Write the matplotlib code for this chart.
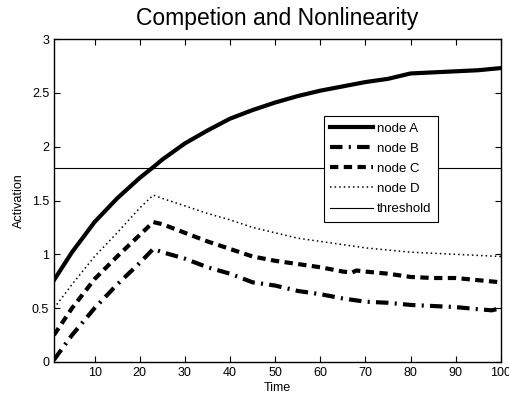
import numpy as np
import matplotlib
matplotlib.use("Agg")
import matplotlib.pyplot as plt
from matplotlib.ticker import FuncFormatter

# values
t_a = [1, 5, 10, 15, 20, 23, 25, 30, 35, 40, 45, 50, 55, 60, 65, 70, 75, 80, 85, 90, 95, 100]
node_a = [0.76, 1.02, 1.30, 1.52, 1.71, 1.81, 1.88, 2.03, 2.15, 2.26, 2.34, 2.41, 2.47, 2.52,
          2.56, 2.60, 2.63, 2.68, 2.69, 2.70, 2.71, 2.73]

t_b = [1, 5, 10, 15, 20, 23, 25, 30, 35, 40, 45, 50, 55, 60, 65, 70, 75, 80, 85, 90, 95, 98, 100]
node_b = [0.02, 0.25, 0.50, 0.72, 0.92, 1.05, 1.02, 0.96, 0.88, 0.82, 0.74, 0.71, 0.66, 0.63,
          0.59, 0.56, 0.55, 0.53, 0.52, 0.51, 0.49, 0.48, 0.50]

t_c = [1, 5, 10, 15, 20, 23, 25, 30, 35, 40, 45, 50, 55, 60, 65, 67, 68, 70, 75, 80, 85, 90, 95, 100]
node_c = [0.25, 0.50, 0.77, 0.98, 1.18, 1.30, 1.28, 1.20, 1.12, 1.05, 0.98, 0.94, 0.91, 0.88,
          0.84, 0.83, 0.85, 0.84, 0.82, 0.79, 0.78, 0.78, 0.76, 0.74]

t_d = [1, 5, 10, 15, 20, 23, 25, 30, 35, 40, 45, 50, 55, 60, 65, 70, 75, 80, 85, 90, 95, 100]
node_d = [0.50, 0.72, 0.98, 1.20, 1.43, 1.55, 1.52, 1.45, 1.38, 1.32, 1.25, 1.20, 1.15, 1.12,
          1.09, 1.06, 1.04, 1.02, 1.01, 1.00, 0.99, 0.98]

threshold = 1.8
x_ticks = [10, 20, 30, 40, 50, 60, 70, 80, 90, 100]
y_ticks = [0, 0.5, 1, 1.5, 2, 2.5, 3]

plt.rcParams['font.family'] = ['Liberation Sans', 'DejaVu Sans']

fig = plt.figure(figsize=(5.09, 4.00), dpi=100)
ax = fig.add_axes([0.106, 0.095, 0.878, 0.8075])

ax.plot(t_a, node_a, color='black', lw=3, ls='-', label='node A')
ax.plot(t_b, node_b, color='black', lw=3, ls=(0, (3, 1.5, 0.5, 1.5)), label='node B')
ax.plot(t_c, node_c, color='black', lw=3, ls=(0, (2, 1.3)), label='node C')
ax.plot(t_d, node_d, color='black', lw=1.1, ls=(0, (1, 2)), label='node D')
ax.axhline(threshold, color='black', lw=0.8, label='threshold')

ax.set_xlim(1, 100)
ax.set_ylim(0, 3)
ax.set_xticks(x_ticks)
ax.set_yticks(y_ticks)
ax.yaxis.set_major_formatter(FuncFormatter(lambda v, p: ('%g' % v)))
ax.tick_params(direction='in', top=True, right=True, labelsize=9, length=4, width=0.8)
for s in ax.spines.values():
    s.set_linewidth(1)

ax.set_xlabel('Time', fontsize=9, labelpad=2)
ax.set_ylabel('Activation', fontsize=9, labelpad=5)
ax.set_title('Competion and Nonlinearity', fontsize=16.5, pad=10)

leg = ax.legend(loc='upper left', bbox_to_anchor=(0.604, 0.7625), fontsize=9.5,
                frameon=True, fancybox=False, edgecolor='black', framealpha=1,
                handlelength=3.2, handletextpad=0.3, labelspacing=0.6,
                borderpad=0.5, borderaxespad=0)
leg.get_frame().set_linewidth(0.8)

fig.savefig('out.png', dpi=100)
